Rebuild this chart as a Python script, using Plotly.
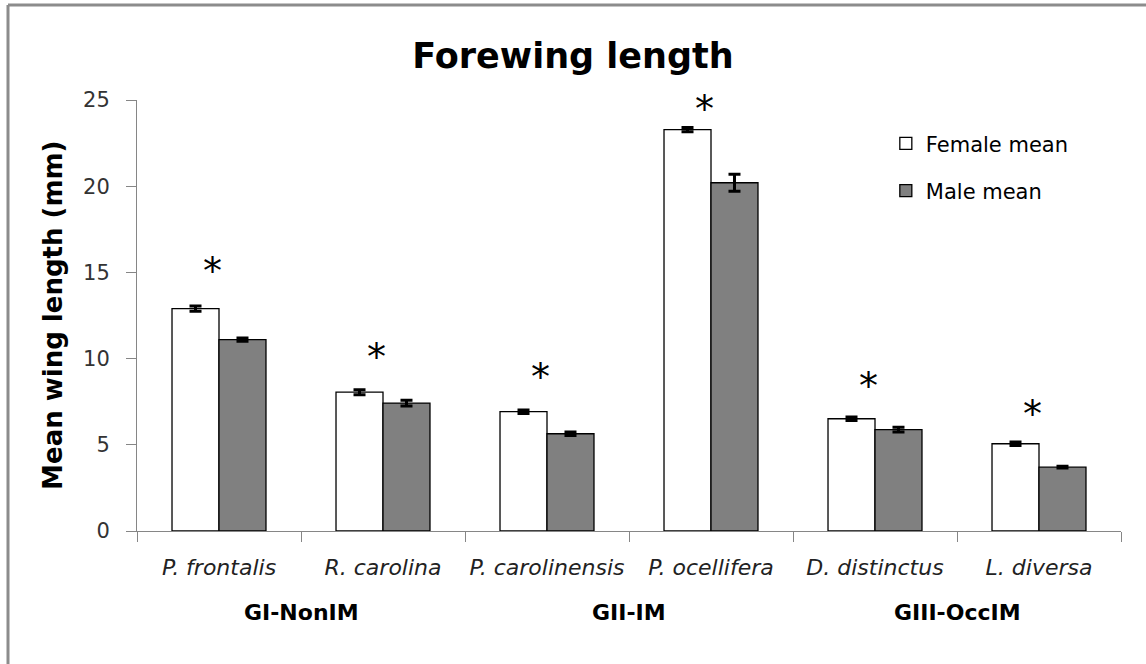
import plotly.graph_objects as go

# Species, grouped by migratory class
species = ["P. frontalis", "R. carolina", "P. carolinensis", "P. ocellifera", "D. distinctus", "L. diversa"]
groups = ["GI-NonIM", "GII-IM", "GIII-OccIM"]
group_centers = [0.5, 2.5, 4.5]

# Mean forewing length (mm) and error
female_mean = [12.9, 8.05, 6.92, 23.28, 6.51, 5.06]
female_err = [0.15, 0.15, 0.1, 0.12, 0.1, 0.1]
male_mean = [11.1, 7.42, 5.64, 20.2, 5.88, 3.7]
male_err = [0.1, 0.17, 0.1, 0.5, 0.14, 0.05]

# Height of the significance marks
sig_y = [15.5, 10.5, 9.35, 24.9, 8.8, 7.2]

FONT = "DejaVu Sans"
AXIS_GRAY = "#868686"

fig = go.Figure()
fig.add_trace(go.Bar(
    name="Female mean", x=species, y=female_mean,
    marker=dict(color="white", line=dict(color="black", width=1.3)),
    error_y=dict(type="data", array=female_err, color="black", thickness=3, width=6),
    legendgroup="f",
))
fig.add_trace(go.Bar(
    name="Male mean", x=species, y=male_mean,
    marker=dict(color="#808080", line=dict(color="black", width=1.3)),
    error_y=dict(type="data", array=male_err, color="black", thickness=3, width=6),
    legendgroup="m",
))

annotations = []
for i, yv in enumerate(sig_y):
    annotations.append(dict(
        x=i - 0.04, y=yv, xref="x", yref="y", text="*", showarrow=False,
        font=dict(family="DejaVu Sans", size=38, color="black"),
        xanchor="center", yanchor="middle", yshift=-7,
    ))
for g, c in zip(groups, group_centers):
    annotations.append(dict(
        x=c, y=-0.19, xref="x", yref="paper", text="<b>" + g + "</b>", showarrow=False,
        font=dict(family=FONT, size=22, color="black"),
        xanchor="center", yanchor="middle",
    ))
annotations.append(dict(
    x=-0.086, y=0.5, xref="paper", yref="paper", text="<b>Mean wing length (mm)</b>",
    textangle=-90, showarrow=False, font=dict(family=FONT, size=26, color="black"),
    xanchor="center", yanchor="middle",
))

fig.update_layout(
    width=1146, height=664,
    margin=dict(l=137, r=25, t=100, b=133),
    paper_bgcolor="white", plot_bgcolor="white",
    barmode="group", bargap=0.427, bargroupgap=0,
    title=dict(text="<b>Forewing length</b>", x=0.5, xref="container", xanchor="center",
               y=1 - 56 / 664, yref="container", yanchor="middle",
               font=dict(family=FONT, size=35, color="black")),
    legend=dict(x=0.761, y=0.946, xanchor="left", yanchor="top",
                font=dict(family=FONT, size=21, color="black"),
                traceorder="grouped", tracegroupgap=17, bgcolor="rgba(0,0,0,0)"),
    annotations=annotations,
    showlegend=True,
)
fig.update_xaxes(
    showline=True, linecolor=AXIS_GRAY, linewidth=1,
    ticks="outside", tickson="boundaries", ticklen=10, tickcolor=AXIS_GRAY,
    tickfont=dict(family=FONT, size=22, color="#222222", style="italic"),
    ticklabelstandoff=17, showgrid=False, zeroline=False,
)
fig.update_yaxes(
    range=[0, 25], tickvals=[0, 5, 10, 15, 20, 25],
    showline=True, linecolor=AXIS_GRAY, linewidth=1,
    ticks="outside", ticklen=10, tickcolor=AXIS_GRAY,
    tickfont=dict(family=FONT, size=21, color="#333333"),
    ticklabelstandoff=12, showgrid=False, zeroline=False,
)

# Outer frame (left and top edges)
fig.add_shape(type="line", xref="paper", yref="paper",
              x0=(8 - 137) / 984, x1=(8 - 137) / 984, y0=(531 - 680) / 431, y1=(531 - 5) / 431,
              line=dict(color="#8c8c8c", width=3))
fig.add_shape(type="line", xref="paper", yref="paper",
              x0=(8 - 137) / 984, x1=(1160 - 137) / 984, y0=(531 - 5) / 431, y1=(531 - 5) / 431,
              line=dict(color="#8c8c8c", width=3))

fig.write_html("out.html")
